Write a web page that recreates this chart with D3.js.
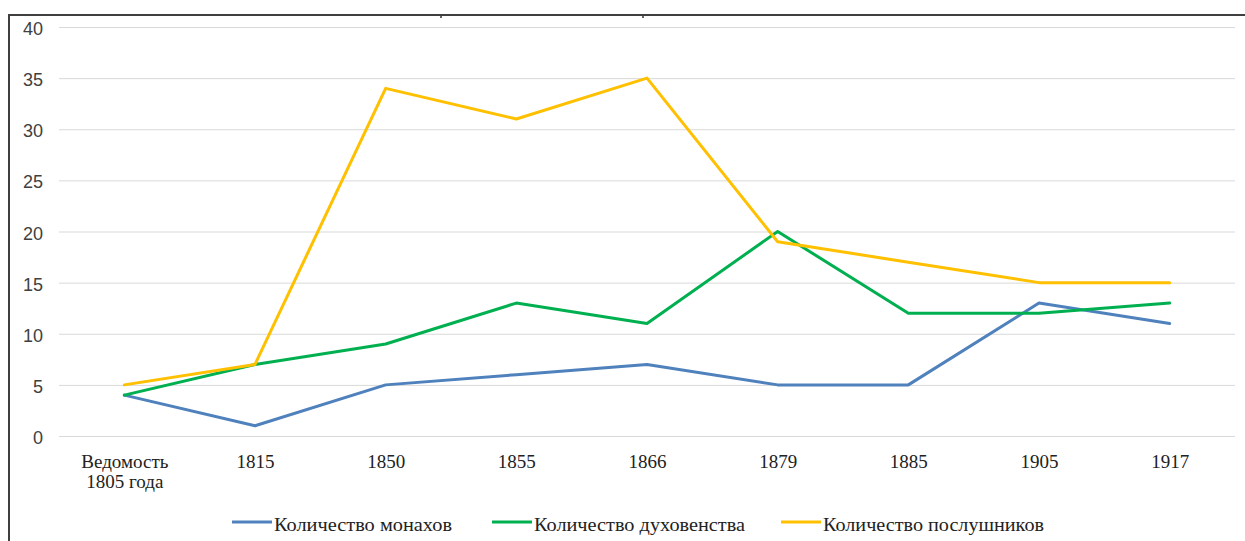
<!DOCTYPE html>
<html><head><meta charset="utf-8">
<script src="https://cdn.jsdelivr.net/npm/d3@7"></script>
<style>body{margin:0;background:#fff}svg{display:block}</style>
</head><body>
<svg id="c" width="1245" height="541"></svg>
<script>
const categories = ["Ведомость\n1805 года","1815","1850","1855","1866","1879","1885","1905","1917"];
const monks   = [4, 1, 5, 6, 7, 5, 5, 13, 11];
const clergy  = [4, 7, 9, 13, 11, 20, 12, 12, 13];
const novices = [5, 7, 34, 31, 35, 19, 17, 15, 15];
const yTicks = [0,5,10,15,20,25,30,35,40];
const seriesNames = ["Количество монахов","Количество духовенства","Количество послушников"];
const colors = ["#4F81BD","#00B050","#FFC000"];
const series = [monks, clergy, novices];

const svg = d3.select("#c");
const x = d3.scalePoint().domain(categories).range([59,1235]).padding(0.5);
const y = d3.scaleLinear().domain([0,40]).range([436,27]);

// frame
svg.append("path").attr("d","M9,541 V15 H1245").attr("fill","none").attr("stroke","#3f3f3f").attr("stroke-width",2);
// tiny remnants of a clipped title
[440,642].forEach(px=>svg.append("rect").attr("x",px).attr("y",16).attr("width",2).attr("height",2).attr("fill","#666"));

// grid
const yAxis = d3.axisLeft(y).tickValues(yTicks).tickSize(-(1235-59)).tickPadding(16);
const gy = svg.append("g").attr("transform","translate(59,0)").call(yAxis);
gy.select(".domain").remove();
gy.selectAll(".tick line").attr("stroke","#d9d9d9").attr("stroke-width",1);
gy.selectAll(".tick text").attr("font-family","Liberation Sans, Arial").attr("font-size",18).attr("fill","#404040").attr("x",-16).attr("dy","0.42em");

// x labels
const xAxis = d3.axisBottom(x).tickSize(0).tickFormat("");
const gx = svg.append("g").attr("transform","translate(0,436)").call(xAxis);
gx.select(".domain").remove();
gx.selectAll(".tick").each(function(d){
  const lines = d.split("\n");
  const t = d3.select(this).append("text").attr("text-anchor","middle").attr("font-family","Liberation Serif, Times New Roman").attr("font-size",19).attr("fill","#222");
  lines.forEach((l,i)=>t.append("tspan").attr("x",0).attr("y",32+i*20).text(l));
});

// lines
const line = d3.line().x((d,i)=>x(categories[i])).y(d=>y(d));
series.forEach((s,k)=>{
  svg.append("path").datum(s).attr("d",line).attr("fill","none").attr("stroke",colors[k]).attr("stroke-width",3).attr("stroke-linejoin","round").attr("stroke-linecap","round");
});

// legend
const legX = [232,492,781];
const legW = [178,211,221];
seriesNames.forEach((n,k)=>{
  const g = svg.append("g").attr("transform",`translate(${legX[k]},522)`);
  g.append("line").attr("x1",0).attr("x2",40).attr("stroke",colors[k]).attr("stroke-width",3);
  g.append("text").attr("x",42).attr("y",9).attr("font-family","Liberation Serif, Times New Roman").attr("font-size",19).attr("fill","#222")
   .attr("textLength",legW[k]).attr("lengthAdjust","spacingAndGlyphs").text(n);
});
</script>
</body></html>
